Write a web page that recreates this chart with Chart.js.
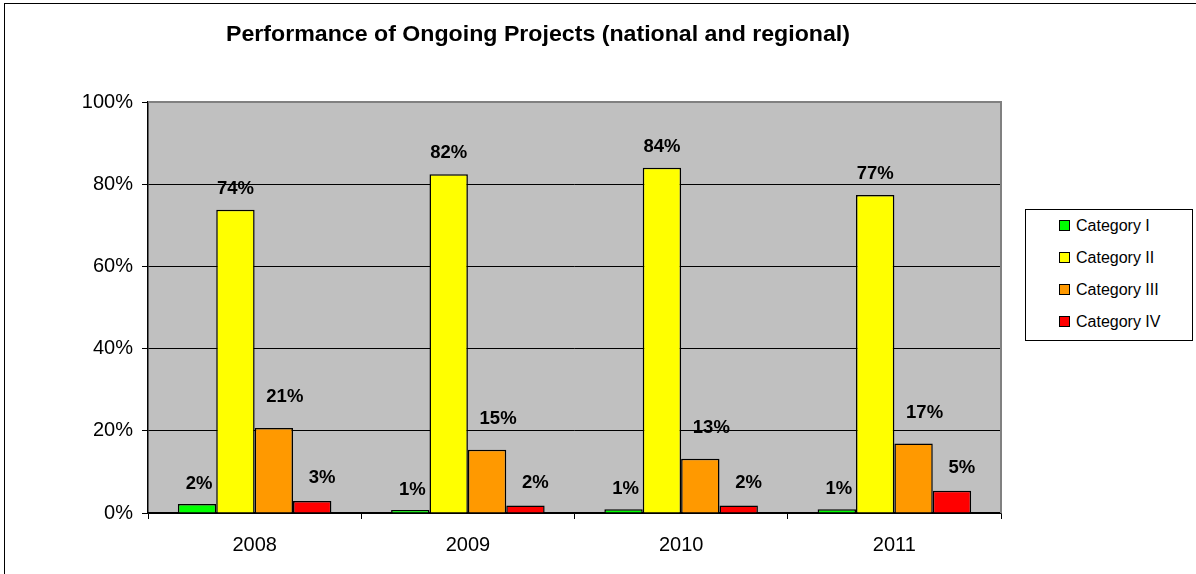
<!DOCTYPE html>
<html lang="en">
<head>
<meta charset="UTF-8" />
<title>Performance of Ongoing Projects</title>
<script src="https://cdn.jsdelivr.net/npm/chart.js"></script>
<style>
  html, body { margin: 0; padding: 0; background: #fff; overflow: hidden; }
  body { width: 1196px; height: 574px; position: relative; font-family: "Liberation Sans", Arial, sans-serif; }
  #frame {
    position: absolute; left: 4px; top: 3px; width: 1210px; height: 590px;
    border: 1px solid #000; box-sizing: border-box; pointer-events: none;
  }
  #chartWrap { position: absolute; left: 0; top: 0; width: 1196px; height: 574px; }
  #legend {
    position: absolute; left: 1025px; top: 209px; width: 168px; height: 132px;
    border: 1px solid #000; box-sizing: border-box; background: #fff;
  }
  #legend .item {
    position: absolute; left: 33px; height: 20px; line-height: 20px;
    font-size: 16px; color: #000; white-space: nowrap;
  }
  #legend .sw {
    display: inline-block; width: 9px; height: 9px; border: 1px solid #000;
    margin-right: 6px; vertical-align: 0px;
  }
</style>
</head>
<body>
<div id="chartWrap"><canvas id="projChart" width="1196" height="574"></canvas></div>
<div id="legend"></div>
<div id="frame"></div>

<script>
  // data
  const years = ['2008', '2009', '2010', '2011'];
  const seriesNames = ['Category I', 'Category II', 'Category III', 'Category IV'];
  const catI   = [2.2, 0.7, 0.9, 0.9];
  const catII  = [73.8, 82.4, 84.0, 77.4];
  const catIII = [20.7, 15.4, 13.2, 16.9];
  const catIV  = [2.9, 1.8, 1.8, 5.4];
  const yTicks = [0, 20, 40, 60, 80, 100];

  const colors = ['#00FF00', '#FFFF00', '#FF9900', '#FF0000'];
  // label nudges (Excel put them a bit right of orange/red bars)
  const labelDx = [2, 0, 11, 10];
  const labelDy = [20, 21, 31, 23];

  const allSeries = [catI, catII, catIII, catIV];
  const FONT = '"Liberation Sans", Arial, sans-serif';

  // legend box
  const legendEl = document.getElementById('legend');
  seriesNames.forEach((name, i) => {
    const d = document.createElement('div');
    d.className = 'item';
    d.style.top = (6 + i * 32) + 'px';
    d.innerHTML = '<span class="sw" style="background:' + colors[i] + '"></span>' + name;
    legendEl.appendChild(d);
  });

  const plotBg = {
    id: 'plotBg',
    beforeDraw(chart) {
      const { ctx, chartArea: a } = chart;
      ctx.save();
      ctx.fillStyle = '#C0C0C0';
      ctx.fillRect(a.left, a.top, a.right - a.left, a.bottom - a.top);
      ctx.restore();
    },
    afterDraw(chart) {
      const { ctx, chartArea: a } = chart;
      ctx.save();
      ctx.strokeStyle = '#808080';
      ctx.lineWidth = 2;
      ctx.beginPath();
      ctx.moveTo(a.left, a.top);
      ctx.lineTo(a.right, a.top);
      ctx.lineTo(a.right, a.bottom);
      ctx.stroke();
      // title, stretched a bit like the original
      const title = 'Performance of Ongoing Projects (national and regional)';
      ctx.fillStyle = '#000';
      ctx.font = 'bold 22px ' + FONT;
      ctx.textAlign = 'center';
      ctx.textBaseline = 'middle';
      const w = ctx.measureText(title).width;
      ctx.translate(538, 35);
      ctx.scale(624 / w, 1);
      ctx.fillText(title, 0, 0);
      ctx.restore();
    }
  };

  const barLabels = {
    id: 'barLabels',
    afterDatasetsDraw(chart) {
      const ctx = chart.ctx;
      ctx.save();
      ctx.fillStyle = '#000';
      ctx.font = 'bold 18.5px ' + FONT;
      ctx.textAlign = 'center';
      ctx.textBaseline = 'middle';
      chart.data.datasets.forEach((ds, i) => {
        chart.getDatasetMeta(i).data.forEach((bar, j) => {
          const txt = Math.round(ds.data[j]) + '%';
          ctx.fillText(txt, bar.x + labelDx[i], bar.y - labelDy[i]);
        });
      });
      ctx.restore();
    }
  };

  const ctx = document.getElementById('projChart').getContext('2d');
  new Chart(ctx, {
    type: 'bar',
    data: {
      labels: years,
      datasets: seriesNames.map((name, i) => ({
        label: name,
        data: allSeries[i],
        backgroundColor: colors[i],
        borderColor: '#000',
        borderWidth: 1.5,
        borderSkipped: 'bottom',
        categoryPercentage: 0.72,
        barPercentage: 1.0
      }))
    },
    options: {
      responsive: false,
      animation: false,
      layout: { padding: { left: 0, top: 102, right: 195, bottom: 0 } },
      plugins: {
        legend: { display: false },
        title: { display: false },
        tooltip: { enabled: false }
      },
      scales: {
        x: {
          grid: {
            offset: true,
            drawOnChartArea: false,
            drawTicks: true,
            tickLength: 6,
            tickColor: '#000'
          },
          border: { color: '#000', width: 1.5 },
          ticks: {
            color: '#000',
            padding: 14,
            font: { family: FONT, size: 20 }
          },
          afterFit(scale) { scale.height = 61; }
        },
        y: {
          min: 0,
          max: 100,
          afterBuildTicks(scale) { scale.ticks = yTicks.map(v => ({ value: v })); },
          grid: {
            color: c => (c.tick && c.tick.value === 100) ? 'rgba(0,0,0,0)' : '#000',
            lineWidth: 1,
            drawTicks: true,
            tickLength: 6,
            tickColor: '#000'
          },
          border: { color: '#000', width: 1.5 },
          ticks: {
            color: '#000',
            padding: 9,
            font: { family: FONT, size: 20 },
            callback: v => v + '%'
          },
          afterFit(scale) { scale.width = 148; }
        }
      }
    },
    plugins: [plotBg, barLabels]
  });
</script>
</body>
</html>
